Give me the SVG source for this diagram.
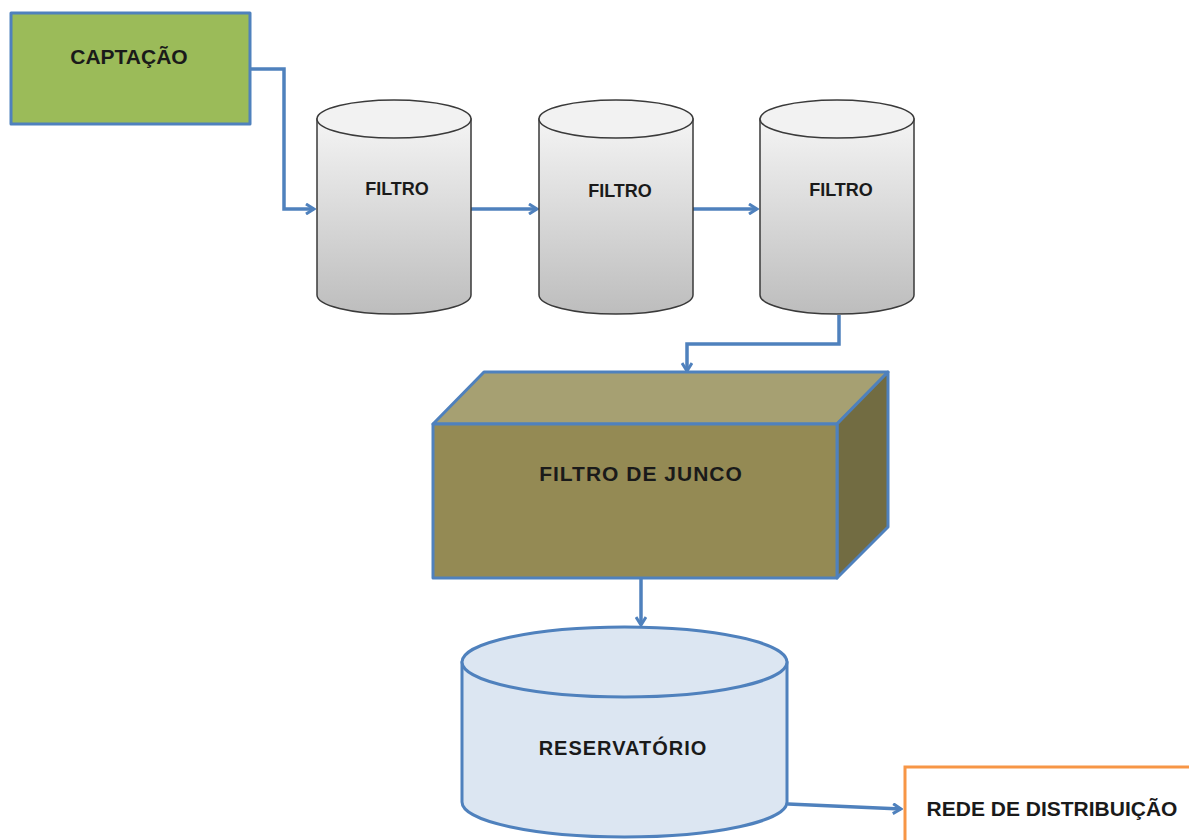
<svg xmlns="http://www.w3.org/2000/svg" width="1189" height="840" viewBox="0 0 1189 840">
<style>
.lbl{font-family:"Liberation Sans",Arial,sans-serif;font-weight:bold;fill:#1a1a1a;text-anchor:middle;dominant-baseline:central}
.conn{fill:none;stroke:#4F81BD;stroke-width:3.5}
.cyl{stroke:#3a3a3a;stroke-width:1.5}
.blue{stroke:#4F81BD;stroke-width:3;stroke-linejoin:round}
</style>
<defs>
<linearGradient id="gray" x1="0" y1="0" x2="0" y2="1">
<stop offset="0" stop-color="#F4F4F4"/>
<stop offset="1" stop-color="#BDBDBD"/>
</linearGradient>
<marker id="arr" viewBox="0 0 12 12" refX="10" refY="6" markerWidth="12" markerHeight="12" markerUnits="userSpaceOnUse" orient="auto">
<path d="M2,1 L10,6 L2,11" fill="none" stroke="#4F81BD" stroke-width="3"/>
</marker>
</defs>
<rect width="1189" height="840" fill="#ffffff"/>

<g id="connectors">
<path class="conn" d="M250,69 H284 V209 H314" marker-end="url(#arr)"/>
<path class="conn" d="M471,209 H537" marker-end="url(#arr)"/>
<path class="conn" d="M693,209 H757" marker-end="url(#arr)"/>
<path class="conn" d="M839,315 V344 H687 V371" marker-end="url(#arr)"/>
<path class="conn" d="M641,579 V625" marker-end="url(#arr)"/>
<path class="conn" d="M788,804 L901,809" marker-end="url(#arr)"/>
</g>

<g id="captacao">
<rect x="11" y="13" width="239" height="111" fill="#9BBB59" class="blue"/>
<text class="lbl" x="129" y="56" font-size="21">CAPTAÇÃO</text>
</g>

<g id="filtro1">
<path class="cyl" d="M317,119 V295 A77,19 0 0 0 471,295 V119 Z" fill="url(#gray)"/>
<ellipse class="cyl" cx="394" cy="119" rx="77" ry="19" fill="#F2F2F2"/>
<text class="lbl" x="397" y="189" font-size="18">FILTRO</text>
</g>

<g id="filtro2">
<path class="cyl" d="M539,119 V295 A77,19 0 0 0 693,295 V119 Z" fill="url(#gray)"/>
<ellipse class="cyl" cx="616" cy="119" rx="77" ry="19" fill="#F2F2F2"/>
<text class="lbl" x="620" y="191" font-size="18">FILTRO</text>
</g>

<g id="filtro3">
<path class="cyl" d="M760,119 V295 A77,19 0 0 0 914,295 V119 Z" fill="url(#gray)"/>
<ellipse class="cyl" cx="837" cy="119" rx="77" ry="19" fill="#F2F2F2"/>
<text class="lbl" x="841" y="190" font-size="18">FILTRO</text>
</g>

<g id="filtro-junco">
<polygon class="blue" points="433,424 484,372 888,372 837,424" fill="#A6A072"/>
<polygon class="blue" points="837,424 888,372 888,527 837,578" fill="#726C42"/>
<rect x="433" y="424" width="404" height="154" fill="#948A54" class="blue"/>
<text class="lbl" x="641" y="473" font-size="21" letter-spacing="1">FILTRO DE JUNCO</text>
</g>

<g id="reservatorio">
<path class="blue" d="M462,662 V802 A162.5,35 0 0 0 787,802 V662 Z" fill="#DCE6F2"/>
<ellipse class="blue" cx="624.5" cy="662" rx="162.5" ry="35" fill="#DCE6F2"/>
<text class="lbl" x="623" y="748" font-size="20" letter-spacing="1">RESERVATÓRIO</text>
</g>

<g id="rede">
<rect x="905" y="767" width="300" height="90" fill="#ffffff" stroke="#F79646" stroke-width="3"/>
<text class="lbl" x="1052" y="808" font-size="21">REDE DE DISTRIBUIÇÃO</text>
</g>
</svg>
